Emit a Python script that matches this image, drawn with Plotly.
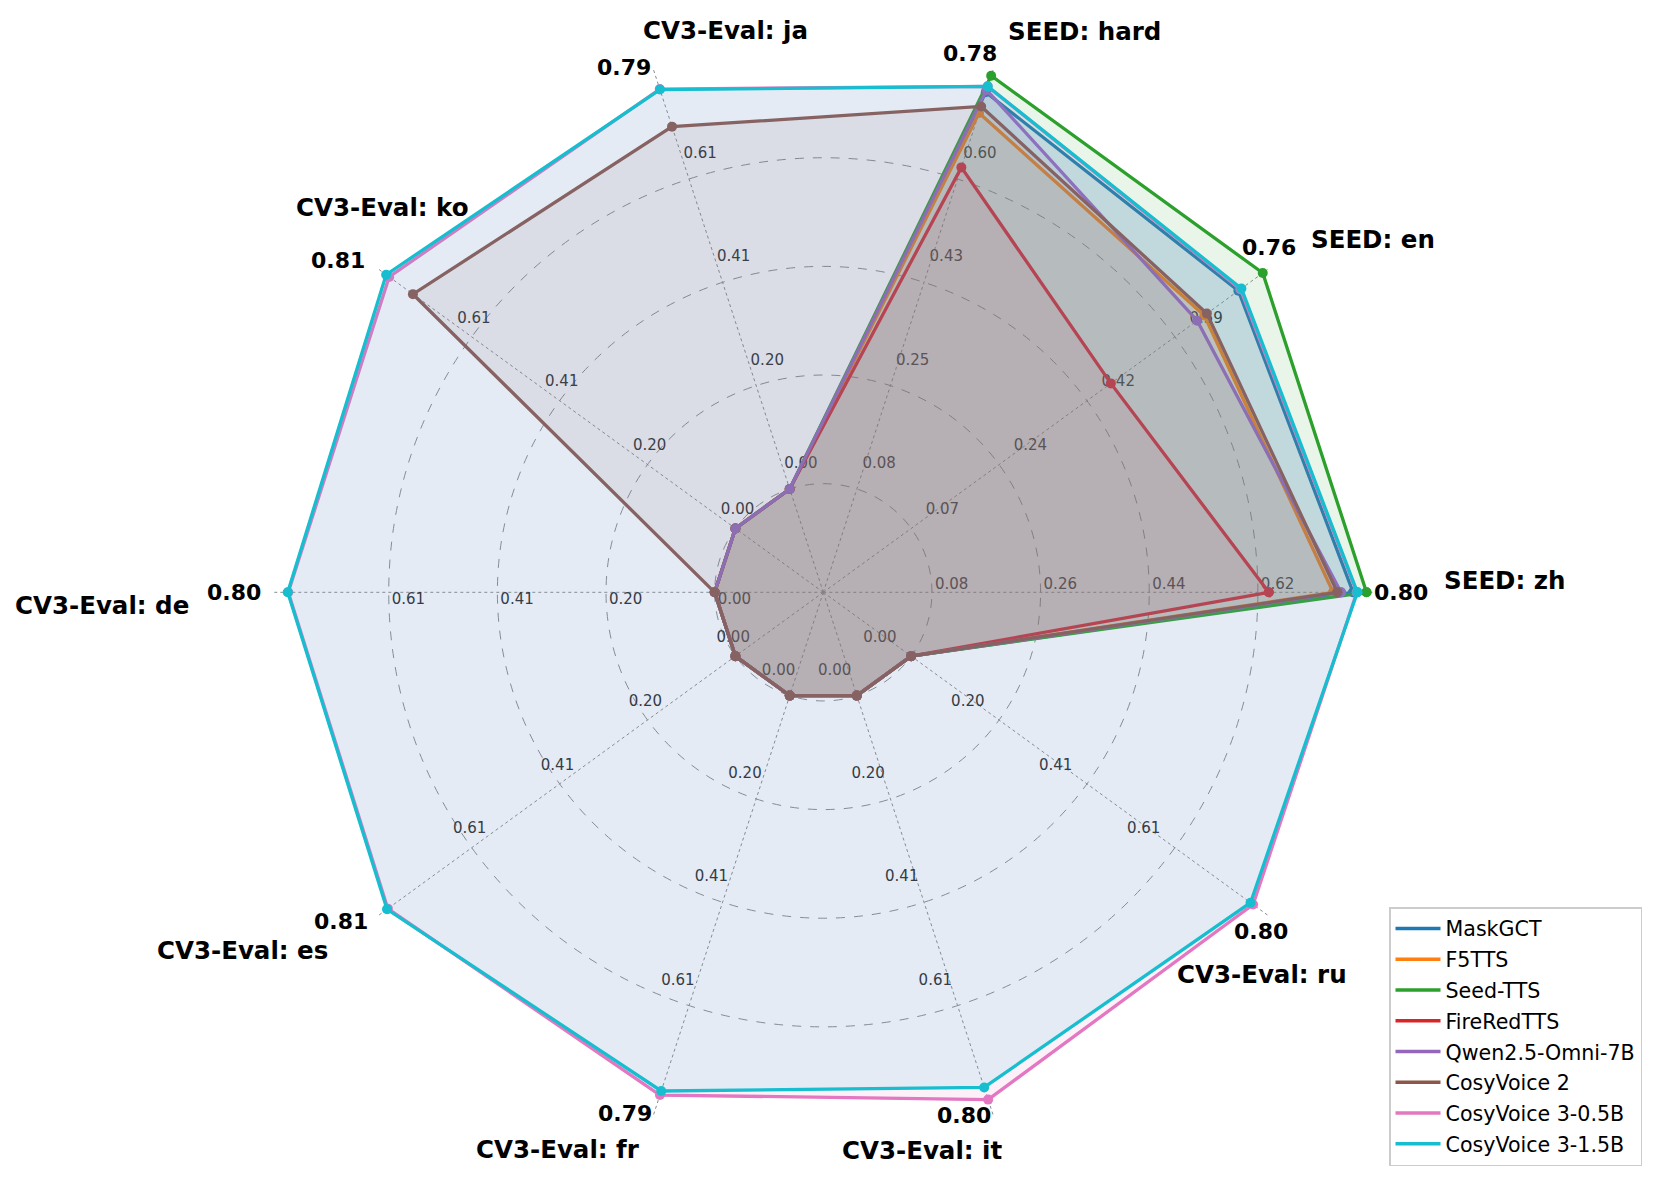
import math
import plotly.graph_objects as go

# ---- data ----
axis_names = [
    "SEED: zh", "SEED: en", "SEED: hard",
    "CV3-Eval: ja", "CV3-Eval: ko", "CV3-Eval: de", "CV3-Eval: es",
    "CV3-Eval: fr", "CV3-Eval: it", "CV3-Eval: ru",
]
# value at the centre and at the outer edge of each spoke
axis_lo = [-0.099, -0.103, -0.097, -0.2033, -0.2033, -0.2033, -0.2033, -0.2033, -0.2033, -0.2033]
axis_hi = [0.796, 0.762, 0.776, 0.8133, 0.8133, 0.8133, 0.8133, 0.8133, 0.8133, 0.8133]

ring_levels = [0.2, 0.4, 0.6, 0.8]
ring_labels = [
    ["0.08", "0.26", "0.44", "0.62"],
    ["0.07", "0.24", "0.42", "0.59"],
    ["0.08", "0.25", "0.43", "0.60"],
    ["0.00", "0.20", "0.41", "0.61"],
    ["0.00", "0.20", "0.41", "0.61"],
    ["0.00", "0.20", "0.41", "0.61"],
    ["0.00", "0.20", "0.41", "0.61"],
    ["0.00", "0.20", "0.41", "0.61"],
    ["0.00", "0.20", "0.41", "0.61"],
    ["0.00", "0.20", "0.41", "0.61"],
]
max_labels = ["0.80", "0.76", "0.78", "0.79", "0.81", "0.80", "0.81", "0.79", "0.80", "0.80"]

model_names = [
    "MaskGCT", "F5TTS", "Seed-TTS", "FireRedTTS", "Qwen2.5-Omni-7B",
    "CosyVoice 2", "CosyVoice 3-0.5B", "CosyVoice 3-1.5B",
]
maskgct = [0.774, 0.714, 0.748, 0, 0, 0, 0, 0, 0, 0]
f5tts = [0.741, 0.647, 0.713, 0, 0, 0, 0, 0, 0, 0]
seed_tts = [0.796, 0.762, 0.776, 0, 0, 0, 0, 0, 0, 0]
fireredtts = [0.635, 0.463, 0.621, 0, 0, 0, 0, 0, 0, 0]
qwen_omni = [0.754, 0.633, 0.752, 0, 0, 0, 0, 0, 0, 0]
cosyvoice2 = [0.748, 0.652, 0.724, 0.713, 0.746, 0, 0, 0, 0, 0]
cosyvoice3_05b = [0.780, 0.718, 0.758, 0.787, 0.801, 0.798, 0.804, 0.786, 0.795, 0.791]
cosyvoice3_15b = [0.781, 0.720, 0.758, 0.786, 0.808, 0.799, 0.806, 0.778, 0.771, 0.785]
model_values = [maskgct, f5tts, seed_tts, fireredtts, qwen_omni,
                cosyvoice2, cosyvoice3_05b, cosyvoice3_15b]

# ---- styling ----
colors = ["#1f77b4", "#ff7f0e", "#2ca02c", "#d62728", "#9467bd",
          "#8c564b", "#e377c2", "#17becf"]
FONT = "DejaVu Sans"
W, H = 1671, 1185
CX, CY = 823.3, 592.3  # centre of the radar, pixels
R_PX = 543.2           # pixels for r = 1
R_MAX = 1.0125         # radial range shown (spokes run a bit past r = 1)

# label placement, in pixels along each spoke
tick_shift = [3, 18, 18, 18, 18, -3, -18, -18, -18, -18]
tick_pos = ["top right"] * 5 + ["bottom right"] + ["top left"] * 4
value_label_r = [607, 587, 567, 552, 564, 560, 560, 548, 550, 577]
name_label_r = [619, 600, 590, 591, 654, 632, 610, 586, 587, 650]
name_label_dtheta = [1.1, 0, 0, 0, 0, 1.2, 0, 0, 0, 0]
name_label_anchor = ["left"] * 5 + ["right"] * 5

n = len(axis_names)
angles = [360.0 * i / n for i in range(n)]


def rgba(hex_color, alpha):
    h = hex_color.lstrip("#")
    return "rgba({},{},{},{})".format(int(h[0:2], 16), int(h[2:4], 16), int(h[4:6], 16), alpha)


def to_paper(r_px, deg):
    a = math.radians(deg)
    return (CX + r_px * math.cos(a)) / W, (H - (CY - r_px * math.sin(a))) / H


fig = go.Figure()

# ring value labels on every spoke (drawn first so the data sits on top)
for i in range(n):
    fig.add_trace(go.Scatterpolar(
        r=[lvl + tick_shift[i] / R_PX for lvl in ring_levels],
        theta=[angles[i]] * len(ring_levels),
        mode="text", text=ring_labels[i], textposition=tick_pos[i],
        textfont=dict(family=FONT, size=15, color="#262626"),
        showlegend=False, hoverinfo="skip",
    ))

# one polygon per model, each spoke scaled to its own range
for name, color, vals in zip(model_names, colors, model_values):
    r = [(v - lo) / (hi - lo) for v, lo, hi in zip(vals, axis_lo, axis_hi)]
    fig.add_trace(go.Scatterpolar(
        r=r + r[:1], theta=angles + angles[:1],
        mode="lines+markers", fill="toself", fillcolor=rgba(color, 0.1),
        line=dict(color=color, width=3.3), marker=dict(color=color, size=10),
        name=name, showlegend=False, hoverinfo="skip",
    ))

# legend entries with plain line samples
for name, color in zip(model_names, colors):
    fig.add_trace(go.Scatterpolar(
        r=[None], theta=[None], mode="lines", line=dict(color=color, width=3.5),
        name=name, legendgroup=name, showlegend=True,
    ))

# bold max value and axis names beyond the outer end of the spokes
annotations = []
for i in range(n):
    x, y = to_paper(value_label_r[i], angles[i])
    annotations.append(dict(
        x=x, y=y, xref="paper", yref="paper", text=max_labels[i],
        xanchor="right", yanchor="middle", showarrow=False,
        font=dict(family=FONT, size=22, color="black", weight="bold"),
    ))
    x, y = to_paper(name_label_r[i], angles[i] + name_label_dtheta[i])
    annotations.append(dict(
        x=x, y=y, xref="paper", yref="paper", text=axis_names[i],
        xanchor=name_label_anchor[i], yanchor="middle", showarrow=False,
        font=dict(family=FONT, size=24.5, color="black", weight="bold"),
    ))

half = R_PX * R_MAX
fig.update_layout(
    width=W, height=H,
    margin=dict(l=0, r=0, t=0, b=0),
    paper_bgcolor="white",
    font=dict(family=FONT, color="black"),
    annotations=annotations,
    polar=dict(
        domain=dict(x=[(CX - half) / W, (CX + half) / W],
                    y=[(H - CY - half) / H, (H - CY + half) / H]),
        bgcolor="white",
        radialaxis=dict(
            range=[0, R_MAX], tickvals=ring_levels, showticklabels=False,
            ticks="", showline=False, gridcolor="#8a8a8a", gridwidth=1, griddash="dash",
        ),
        angularaxis=dict(
            rotation=0, direction="counterclockwise", tickvals=angles,
            showticklabels=False, ticks="", showline=False,
            gridcolor="#8a8a8a", gridwidth=1, griddash="dot",
        ),
    ),
    legend=dict(
        x=1389 / W, y=1 - 907 / H, xanchor="left", yanchor="top",
        bgcolor="white", bordercolor="#cccccc", borderwidth=1.5,
        font=dict(family=FONT, size=20.6, color="black"),
        tracegroupgap=1, itemwidth=45,
    ),
)

fig.write_html(
    "out.html",
    config={"displayModeBar": False},
    post_script="document.body.style.margin='0';document.body.style.overflow='hidden';",
)
